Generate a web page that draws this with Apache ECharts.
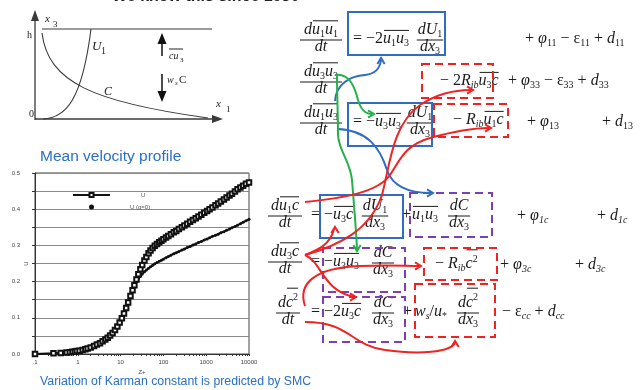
<!DOCTYPE html>
<html>
<head>
<meta charset="utf-8">
<script src="https://cdn.jsdelivr.net/npm/echarts@6/dist/echarts.min.js"></script>
<style>
  html, body { margin: 0; padding: 0; background: #fff; }
  #chart { width: 643px; height: 390px; }
</style>
</head>
<body>
<div id="chart"></div>
<script>
// ---- Mean velocity profile data (Z+ on a log scale) ----
const zPlus = [0.1, 0.27, 0.4, 0.55, 0.65, 0.75, 0.85, 0.95, 1.1, 1.3, 1.5, 1.7, 2.0, 2.4, 2.8, 3.3, 3.8, 4.4, 5.0, 5.7, 6.5, 7.4, 8.4, 9.5, 10.7, 12, 13.5, 15, 17, 19, 21, 23.5, 26, 29, 32, 36, 40, 45, 50, 56, 63, 71, 80, 90, 100, 115, 130, 150, 175, 200, 230, 270, 310, 360, 420, 490, 570, 660, 770, 900, 1050, 1200, 1400, 1650, 1900, 2200, 2600, 3000, 3500, 4000, 4700, 5400, 6300, 7300, 8500, 10000];
const uValues = [0.000, 0.002, 0.003, 0.004, 0.005, 0.006, 0.007, 0.008, 0.009, 0.011, 0.013, 0.015, 0.018, 0.022, 0.026, 0.030, 0.035, 0.040, 0.045, 0.051, 0.058, 0.066, 0.076, 0.087, 0.099, 0.112, 0.127, 0.142, 0.160, 0.176, 0.190, 0.206, 0.220, 0.234, 0.246, 0.258, 0.268, 0.278, 0.286, 0.293, 0.299, 0.304, 0.309, 0.313, 0.317, 0.322, 0.326, 0.331, 0.336, 0.340, 0.345, 0.350, 0.355, 0.360, 0.365, 0.370, 0.375, 0.380, 0.385, 0.390, 0.395, 0.400, 0.405, 0.411, 0.416, 0.421, 0.427, 0.432, 0.438, 0.443, 0.449, 0.455, 0.460, 0.465, 0.470, 0.474];
const uG0Values = [0.000, 0.002, 0.003, 0.004, 0.005, 0.006, 0.007, 0.008, 0.009, 0.011, 0.013, 0.015, 0.018, 0.022, 0.026, 0.030, 0.035, 0.040, 0.045, 0.051, 0.058, 0.066, 0.076, 0.087, 0.099, 0.112, 0.127, 0.142, 0.160, 0.176, 0.189, 0.200, 0.208, 0.215, 0.221, 0.227, 0.232, 0.237, 0.241, 0.245, 0.249, 0.253, 0.256, 0.259, 0.262, 0.266, 0.269, 0.273, 0.277, 0.280, 0.283, 0.287, 0.290, 0.294, 0.297, 0.301, 0.304, 0.308, 0.311, 0.315, 0.318, 0.321, 0.325, 0.328, 0.331, 0.335, 0.338, 0.342, 0.345, 0.349, 0.352, 0.356, 0.360, 0.364, 0.368, 0.372];
const seriesNames = ['U', 'U (g=0)'];

// ---- Axis ticks and labels ----
const xTickValues = [0.1, 0.2, 0.3, 0.4, 0.5, 0.6, 0.7, 0.8, 0.9, 1, 2, 3, 4, 5, 6, 7, 8, 9, 10, 20, 30, 40, 50, 60, 70, 80, 90, 100, 200, 300, 400, 500, 600, 700, 800, 900, 1000, 2000, 3000, 4000, 5000, 6000, 7000, 8000, 9000, 10000];
const xLabelValues = [0.1, 1, 10, 100, 1000, 10000];
const xLabelTexts = ['.1', '1', '10', '100', '1000', '10000'];
const yLabelValues = [0, 0.1, 0.2, 0.3, 0.4, 0.5];

// ---- Text helpers for the equation panel ----
const SERIF = "'Liberation Serif', 'DejaVu Serif', serif";
const SANS = "'Liberation Sans', Arial, sans-serif";
const INK = '#1a1a1a';
const measureCtx = document.createElement('canvas').getContext('2d');
function fontOf(size, italic) { return (italic ? 'italic ' : '') + size + 'px ' + SERIF; }
function textWidth(t, size, italic) { measureCtx.font = fontOf(size, italic); return measureCtx.measureText(t).width; }

// mini notation: letters italic, _x subscript, ^x superscript, [ ... ] overline
function parseMath(str) {
  const out = [];
  let over = false, i = 0;
  while (i < str.length) {
    const ch = str[i];
    if (ch === '[') { over = true; i++; continue; }
    if (ch === ']') { over = false; i++; continue; }
    if (ch === '_' || ch === '^') {
      i++;
      let grp;
      if (str[i] === '{') { const j = str.indexOf('}', i); grp = str.slice(i + 1, j); i = j + 1; }
      else { grp = str[i]; i++; }
      const kind = ch === '^' ? 'p' : (/[a-z]/.test(grp) ? 'S' : 's');
      out.push([grp, kind, over]);
      continue;
    }
    out.push([ch, /[A-Za-zφ]/.test(ch) ? 'i' : 'r', over]);
    i++;
  }
  return out;
}

function mathText(x0, yc, str, size, color, align) {
  size = size || 16; color = color || INK;
  const items = parseMath(str);
  let x = 0;
  const placed = items.map(([t, k, o]) => {
    const small = (k === 's' || k === 'S' || k === 'p');
    const s = small ? Math.round(size * 0.64) : size;
    const it = (k === 'i' || k === 'S');
    const w = textWidth(t, s, it);
    const dy = (k === 's' || k === 'S') ? size * 0.3 : (k === 'p' ? -size * 0.32 : 0);
    const p = { t, x, w, s, it, dy, o, k };
    x += w;
    return p;
  });
  const width = x;
  const xs = align === 'center' ? x0 - width / 2 : x0;
  const els = [];
  placed.forEach(p => {
    els.push({
      type: 'text', silent: true,
      style: { text: p.t, x: xs + p.x, y: yc - 1 + p.dy, font: fontOf(p.s, p.it), fill: color,
               textAlign: 'left', textVerticalAlign: 'middle', align: 'left', verticalAlign: 'middle' }
    });
  });
  let i = 0;
  while (i < placed.length) {
    if (placed[i].o) {
      let j = i, sup = false;
      while (j + 1 < placed.length && placed[j + 1].o) j++;
      for (let q = i; q <= j; q++) if (placed[q].k === 'p') sup = true;
      const top = yc - (sup ? size * 0.95 : size * 0.6);
      els.push({ type: 'line', silent: true,
        shape: { x1: xs + placed[i].x + 1, y1: top, x2: xs + placed[j].x + placed[j].w, y2: top },
        style: { stroke: color, lineWidth: 1 } });
      i = j + 1;
    } else i++;
  }
  return { els, width };
}

function frac(xc, yb, num, den, barW, size) {
  size = size || 16;
  const n = mathText(xc, yb - size * 0.6, num, size, INK, 'center');
  const d = mathText(xc, yb + size * 0.47, den, size, INK, 'center');
  const w = barW || Math.max(n.width, d.width) + 2;
  return n.els.concat(d.els, [{ type: 'line', silent: true,
    shape: { x1: xc - w / 2, y1: yb, x2: xc + w / 2, y2: yb }, style: { stroke: INK, lineWidth: 1 } }]);
}

function put(x, yc, str, size) { return mathText(x, yc, str, size).els; }

function box(x, y, w, h, color, dashed) {
  return { type: 'rect', silent: true, shape: { x, y, width: w, height: h },
    style: { fill: null, stroke: color, lineWidth: 2, lineDash: dashed ? [8, 5] : null } };
}

function curve(pts, color) {
  const els = [];
  for (let i = 0; i + 7 < pts.length; i += 6) {
    els.push({ type: 'bezierCurve', silent: true,
      shape: { x1: pts[i], y1: pts[i + 1], cpx1: pts[i + 2], cpy1: pts[i + 3], cpx2: pts[i + 4], cpy2: pts[i + 5], x2: pts[i + 6], y2: pts[i + 7] },
      style: { stroke: color, lineWidth: 2, fill: null } });
  }
  return els;
}

function head(x, y, ang, color) {
  const L = 7, a = 0.55;
  return { type: 'polyline', silent: true,
    shape: { points: [[x - L * Math.cos(ang - a), y - L * Math.sin(ang - a)], [x, y], [x - L * Math.cos(ang + a), y - L * Math.sin(ang + a)]] },
    style: { stroke: color, lineWidth: 2, fill: null } };
}

const BLUE = '#2f6cc2', RED = '#f02222', PURPLE = '#7b3fb3', GREEN = '#25b04a';
const UP = -Math.PI / 2, RIGHT = 0, DOWN = Math.PI / 2;

let gfx = [];

// slide heading (cut at the top edge)
gfx.push({ type: 'text', silent: true,
  style: { text: 'We know this since 1980', x: 112, y: -3, font: 'bold 16px ' + SANS, fill: '#222', textVerticalAlign: 'middle', verticalAlign: 'middle' } });

// ---- Sketch of the channel: U1 and C profiles over depth ----
const SK = '#3a3a3a';
gfx.push(
  { type: 'line', silent: true, shape: { x1: 35, y1: 120, x2: 35, y2: 20 }, style: { stroke: SK, lineWidth: 1.3 } },
  { type: 'polygon', silent: true, shape: { points: [[35, 10], [31, 21], [39, 21]] }, style: { fill: SK } },
  { type: 'line', silent: true, shape: { x1: 35, y1: 119, x2: 213, y2: 119 }, style: { stroke: SK, lineWidth: 1.3 } },
  { type: 'polygon', silent: true, shape: { points: [[223, 119], [212, 115], [212, 123]] }, style: { fill: SK } },
  { type: 'line', silent: true, shape: { x1: 42, y1: 29, x2: 212, y2: 29 }, style: { stroke: SK, lineWidth: 1.1 } },
  { type: 'bezierCurve', silent: true, shape: { x1: 43, y1: 119, cpx1: 66, cpy1: 118, cpx2: 82, cpy2: 100, x2: 91, y2: 29 }, style: { stroke: SK, lineWidth: 1.1, fill: null } },
  { type: 'bezierCurve', silent: true, shape: { x1: 42, y1: 33, cpx1: 48, cpy1: 82, cpx2: 92, cpy2: 102, x2: 208, y2: 118 }, style: { stroke: SK, lineWidth: 1.1, fill: null } },
  { type: 'line', silent: true, shape: { x1: 162, y1: 56, x2: 162, y2: 42 }, style: { stroke: '#111', lineWidth: 1.5 } },
  { type: 'polygon', silent: true, shape: { points: [[162, 33], [157.5, 44], [166.5, 44]] }, style: { fill: '#111' } },
  { type: 'line', silent: true, shape: { x1: 162, y1: 74, x2: 162, y2: 92 }, style: { stroke: '#111', lineWidth: 1.5 } },
  { type: 'polygon', silent: true, shape: { points: [[162, 102], [157.5, 91], [166.5, 91]] }, style: { fill: '#111' } }
);
function skText(t, x, y, size, italic) {
  return { type: 'text', silent: true, style: { text: t, x, y, font: (italic ? 'italic ' : '') + size + 'px ' + SERIF, fill: '#222', textVerticalAlign: 'middle', verticalAlign: 'middle' } };
}
gfx.push(
  skText('x', 45, 19, 11, true), skText('3', 53, 25, 9, false),
  skText('h', 27, 35, 10, false), skText('0', 29, 114, 10, false),
  skText('U', 92, 47, 13, true), skText('1', 101, 51, 10, false),
  skText('C', 104, 92, 12, true),
  skText('x', 216, 104, 11, true), skText('1', 226, 110, 9, false),
  skText('cu', 169, 56, 10, true), skText('3', 180, 60, 7, false),
  { type: 'line', silent: true, shape: { x1: 169, y1: 49, x2: 183, y2: 49 }, style: { stroke: '#222', lineWidth: 1 } },
  skText('w', 167, 80, 10, true), skText('s', 175, 83, 7, true), skText('C', 179, 80, 11, false)
);

// ---- captions ----
gfx.push(
  { type: 'text', silent: true, style: { text: 'Mean velocity profile', x: 40, y: 157, font: '15.5px ' + SANS, fill: '#2a6fc4', textVerticalAlign: 'middle', verticalAlign: 'middle' } },
  { type: 'text', silent: true, style: { text: 'Variation of Karman constant is predicted by SMC', x: 40, y: 382, font: '12.3px ' + SANS, fill: '#2a6fc4', textVerticalAlign: 'middle', verticalAlign: 'middle' } }
);

// ---- Reynolds-stress / flux budget equations ----
// row 1: u1u1
gfx = gfx.concat(
  frac(321, 40, 'd[u_1u_1]', 'dt', 42), put(353, 40, '= −2[u_1u_3]'), frac(430, 40, 'dU_1', 'dx_3'),
  put(525, 40, '+ φ_{11} − ε_{11} + d_{11}'),
// row 2: u3u3
  frac(321, 82, 'd[u_3u_3]', 'dt', 42), put(440, 82, '− 2R_{ib}[u_3c]'), put(508, 82, '+ φ_{33} − ε_{33} + d_{33}'),
// row 3: u1u3
  frac(321, 123, 'd[u_1u_3]', 'dt', 42), put(353, 123, '= −[u_3u_3]'), frac(420, 123, 'dU_1', 'dx_3'),
  put(453, 121, '− R_{ib}[u_1c]'), put(527, 123, '+ φ_{13}'), put(602, 123, '+ d_{13}'),
// row 4: u1c
  frac(285, 216, 'd[u_1c]', 'dt', 34), put(311, 216, '= −[u_3c]'), frac(375, 216, 'dU_1', 'dx_3'),
  put(402, 216, '+'), put(412, 216, '[u_1u_3]'), frac(459, 216, 'dC', 'dx_3'),
  put(517, 217, '+ φ_{1c}'), put(597, 217, '+ d_{1c}'),
// row 5: u3c
  frac(285, 262, 'd[u_3c]', 'dt', 34), put(311, 263, '= −[u_3u_3]'), frac(383, 263, 'dC', 'dx_3'),
  put(435, 265, '− R_{ib}[c^2]'), put(500, 266, '+ φ_{3c}'), put(575, 266, '+ d_{3c}'),
// row 6: c^2
  frac(288, 313, 'd[c^2]', 'dt', 24), put(311, 313, '= −2[u_3c]'), frac(383, 313, 'dC', 'dx_3'),
  put(403, 313, '+'), put(415, 313, 'w_s/u_*'), frac(468, 313, 'd[c^2]', 'dx_3'),
  put(502, 313, '− ε_{cc} + d_{cc}')
);

// term boxes
gfx.push(
  box(348, 12, 97, 43, BLUE, false),
  box(422, 64, 71, 34, RED, true),
  box(348, 103, 84, 43, BLUE, false),
  box(434, 104, 74, 33, RED, true),
  box(320, 195, 83, 43, BLUE, false),
  box(410, 193, 82, 44, PURPLE, true),
  box(323, 248, 82, 44, PURPLE, true),
  box(424, 248, 73, 32, RED, true),
  box(323, 297, 82, 45, PURPLE, true),
  box(415, 284, 80, 53, RED, true)
);

// links between the terms
gfx = gfx.concat(
  curve([335, 101, 336, 84, 350, 76, 365, 75, 375, 74, 380, 68, 381, 60], BLUE), [head(381, 58, UP, BLUE)],
  curve([337, 129, 368, 130, 380, 148, 387, 170, 393, 188, 410, 193, 431, 193], BLUE), [head(433, 193, RIGHT, BLUE)],
  curve([335, 75, 350, 73, 355, 88, 358, 100, 361, 110, 365, 114, 372, 114], GREEN), [head(374, 114, RIGHT, GREEN)],
  curve([337, 75, 337, 95, 338, 115, 338, 135, 339, 152, 350, 160, 352, 180, 354, 205, 356, 228, 357, 249], GREEN), [head(357, 251, DOWN, GREEN)],
  curve([305, 202, 345, 198, 378, 192, 390, 175, 400, 160, 405, 145, 430, 138, 455, 131, 475, 128, 489, 128], RED), [head(491, 128, RIGHT, RED)],
  curve([305, 255, 340, 245, 370, 230, 382, 195, 390, 165, 392, 125, 420, 105, 438, 93, 455, 90, 471, 90], RED), [head(473, 90, RIGHT, RED)],
  curve([305, 255, 318, 250, 330, 245, 334, 229], RED), [head(335, 227, UP, RED)],
  curve([305, 255, 322, 262, 322, 290, 354, 297], RED), [head(356, 297, RIGHT, RED)],
  curve([305, 306, 298, 285, 312, 268, 360, 266, 390, 265, 405, 266, 419, 266], RED), [head(421, 266, RIGHT, RED)],
  curve([305, 322, 350, 322, 350, 345, 385, 350, 420, 355, 450, 352, 455, 343], RED), [head(455, 341, UP, RED)]
);

const chart = echarts.init(document.getElementById('chart'), null, { renderer: 'canvas' });
chart.setOption({
  animation: false,
  backgroundColor: '#fff',
  textStyle: { fontFamily: SANS },
  grid: { left: 35, top: 173, width: 214, height: 181, show: true, borderColor: '#444', borderWidth: 1, backgroundColor: '#fff' },
  legend: {
    orient: 'vertical', left: 72, top: 192, padding: 0, itemWidth: 37, itemHeight: 5, itemGap: 6,
    textStyle: { fontSize: 6, color: '#555' },
    data: [
      { name: seriesNames[0], textStyle: { padding: [0, 0, 0, 26] } },
      { name: seriesNames[1], icon: 'circle', textStyle: { padding: [0, 0, 0, 15] } }
    ],
    selectedMode: false
  },
  xAxis: {
    type: 'log', logBase: 10, min: 0.1, max: 10000,
    name: 'Z+', nameLocation: 'middle', nameGap: 15, nameMoveOverlap: false, nameTextStyle: { fontSize: 6, color: '#444' },
    axisLine: { show: true, lineStyle: { color: '#333', width: 1 } },
    axisTick: { show: true, customValues: xTickValues, length: 2, lineStyle: { color: '#333' } },
    axisLabel: { customValues: xLabelValues, fontSize: 6, color: '#444', margin: 5,
      formatter: v => { const k = xLabelValues.findIndex(t => Math.abs(t - v) / t < 1e-6); return k >= 0 ? xLabelTexts[k] : ''; } },
    splitLine: { show: false }
  },
  yAxis: {
    type: 'value', min: 0, max: 0.5, interval: 0.05,
    name: 'U', nameLocation: 'middle', nameGap: 6, nameRotate: 90, nameMoveOverlap: false, nameTextStyle: { fontSize: 6, color: '#444' },
    axisLine: { show: true, lineStyle: { color: '#333', width: 1 } },
    axisTick: { show: true, length: 3, lineStyle: { color: '#333' } },
    axisLabel: { customValues: yLabelValues, fontSize: 6, color: '#444', margin: 15, formatter: v => v.toFixed(1) },
    splitLine: { show: true, lineStyle: { color: '#8a8a8a', width: 1 } }
  },
  series: [
    {
      name: seriesNames[1], type: 'line', data: zPlus.map((z, i) => [z, uG0Values[i]]),
      symbol: 'circle', symbolSize: 3, showAllSymbol: true,
      lineStyle: { color: '#111', width: 2 }, itemStyle: { color: '#111' }, z: 2, silent: true
    },
    {
      name: seriesNames[0], type: 'line', data: zPlus.map((z, i) => [z, uValues[i]]),
      symbol: 'emptyRect', symbolSize: 4.5, showAllSymbol: true,
      lineStyle: { color: '#111', width: 1 }, itemStyle: { color: '#111', borderWidth: 1 }, z: 3, silent: true
    }
  ],
  graphic: { elements: gfx }
});
</script>
</body>
</html>
